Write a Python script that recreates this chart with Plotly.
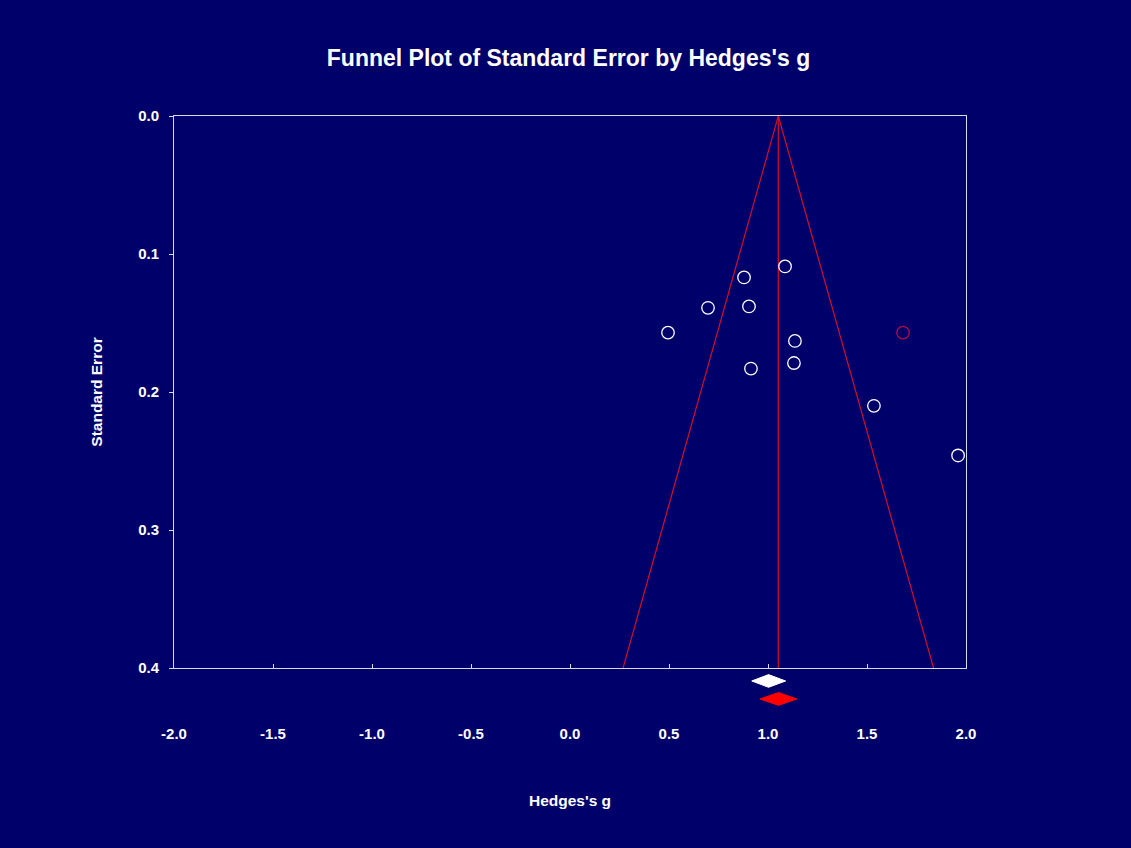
import plotly.graph_objects as go

# Study effects (Hedges's g) and standard errors
study_g = [1.086, 0.879, 0.697, 0.904, 0.495, 1.136, 1.131, 0.914, 1.535, 1.960]
study_se = [0.109, 0.117, 0.139, 0.138, 0.157, 0.163, 0.179, 0.183, 0.210, 0.246]

# Imputed study (trim-and-fill)
imputed_g = [1.682]
imputed_se = [0.157]

# Summary effects: observed and adjusted (point, lower, upper)
observed_summary = [1.003, 0.918, 1.089]
adjusted_summary = [1.053, 0.960, 1.146]

funnel_center = 1.052
se_max = 0.4
z = 1.96

x_ticks = [-2.0, -1.5, -1.0, -0.5, 0.0, 0.5, 1.0, 1.5, 2.0]
y_ticks = [0.0, 0.1, 0.2, 0.3, 0.4]

BG = "#00006a"
RED = "#d0102a"
AXIS = "#d8d8e8"
FONT = "Liberation Sans, Arial, sans-serif"

fig = go.Figure()

# Funnel
fig.add_trace(go.Scatter(
    x=[funnel_center - z * se_max, funnel_center, funnel_center + z * se_max],
    y=[se_max, 0.0, se_max],
    mode="lines", line=dict(color=RED, width=1.2), hoverinfo="skip", showlegend=False))
fig.add_trace(go.Scatter(
    x=[funnel_center, funnel_center], y=[0.0, se_max],
    mode="lines", line=dict(color=RED, width=1.2), hoverinfo="skip", showlegend=False))

# Studies
fig.add_trace(go.Scatter(
    x=study_g, y=study_se, mode="markers",
    marker=dict(symbol="circle-open", size=12.5, color="white", line=dict(width=1.3)),
    showlegend=False))
fig.add_trace(go.Scatter(
    x=imputed_g, y=imputed_se, mode="markers",
    marker=dict(symbol="circle-open", size=12.5, color="#b01040", line=dict(width=1.3)),
    showlegend=False))

# Summary diamonds below the axis (x in data units, y in paper units)
def diamond(summary, yc, h, color):
    p, lo, hi = summary
    path = (f"M {lo},{yc} L {p},{yc + h} L {hi},{yc} L {p},{yc - h} Z")
    return dict(type="path", xref="x", yref="paper", path=path,
                fillcolor=color, line=dict(color=color, width=1), layer="above")

fig.add_shape(diamond(observed_summary, -0.0235, 0.0115, "white"))
fig.add_shape(diamond(adjusted_summary, -0.0561, 0.0115, "#ff0000"))

fig.update_layout(
    width=1131, height=848,
    paper_bgcolor=BG, plot_bgcolor=BG,
    margin=dict(l=174, r=165, t=116, b=180),
    font=dict(family=FONT, color="white", size=15),
    title=dict(text="<b>Funnel Plot of Standard Error by Hedges's g</b>",
               x=568.5 / 1131, xanchor="center", y=1 - 58 / 848, yanchor="middle",
               font=dict(size=23, color="white", family=FONT)),
    showlegend=False,
)

fig.update_xaxes(
    range=[-2.0, 2.0], tickvals=x_ticks, ticktext=[f"<b>{v:.1f}</b>" for v in x_ticks],
    showgrid=False, zeroline=False,
    showline=True, linecolor=AXIS, linewidth=1, mirror=True,
    ticks="inside", ticklen=4, tickcolor=AXIS,
    ticklabelstandoff=52,
    tickfont=dict(size=15, color="white", family=FONT),
    title=dict(text="<b>Hedges's g</b>", standoff=54,
               font=dict(size=15.5, color="white", family=FONT)),
)
fig.update_yaxes(
    range=[0.4, 0.0], tickvals=y_ticks, ticktext=[f"<b>{v:.1f}</b>" for v in y_ticks],
    showgrid=False, zeroline=False,
    showline=True, linecolor=AXIS, linewidth=1, mirror=True,
    ticks="outside", ticklen=4, tickcolor=AXIS,
    ticklabelstandoff=7,
    tickfont=dict(size=15, color="white", family=FONT),
    title=dict(text="<b>Standard Error</b>", standoff=31,
               font=dict(size=15.5, color="white", family=FONT)),
)

fig.write_html(
    "out.html",
    config={"displayModeBar": False},
    post_script="document.body.style.margin='0';document.body.style.background='#00006a';",
)
